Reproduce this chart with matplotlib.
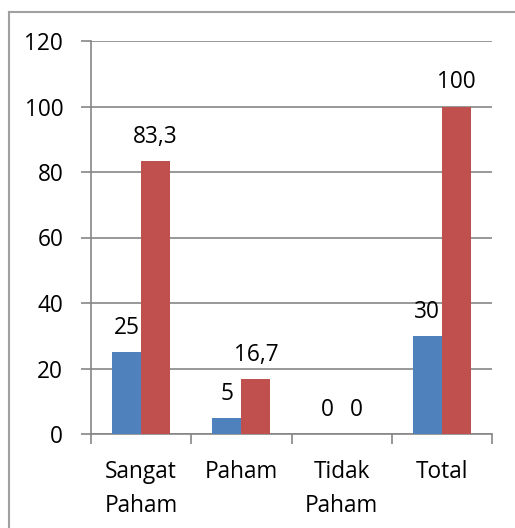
import numpy as np
import matplotlib
matplotlib.use("Agg")
import matplotlib.pyplot as plt
from matplotlib.lines import Line2D

plt.rcParams['font.family'] = ['Open Sans', 'DejaVu Sans']

# data
kategori = ["Sangat\nPaham", "Paham", "Tidak\nPaham", "Total"]
jumlah = [25, 5, 0, 30]
persen = [83.3, 16.7, 0, 100]
label_jumlah = ["25", "5", "0", "30"]
label_persen = ["83,3", "16,7", "0", "100"]
yticks = [0, 20, 40, 60, 80, 100, 120]

W, H = 515, 528
fig = plt.figure(figsize=(W / 100, H / 100), dpi=100)
ax = fig.add_axes([91 / W, 1 - 434 / H, (492 - 91) / W, (434 - 41) / H])

x = np.arange(len(kategori))
bw = 0.29
ax.bar(x - bw / 2, jumlah, bw, color='#4F81BD', zorder=3)
ax.bar(x + bw / 2, persen, bw, color='#C0504D', zorder=3)

fs = 16.3
for xi, v, t in zip(x, jumlah, label_jumlah):
    ax.annotate(t, (xi - bw / 2, v), xytext=(0, 13), textcoords='offset points',
                ha='center', va='baseline', fontsize=fs)
for xi, v, t in zip(x, persen, label_persen):
    ax.annotate(t, (xi + bw / 2, v), xytext=(0, 13), textcoords='offset points',
                ha='center', va='baseline', fontsize=fs)

grid = '#868686'
ax.set_xlim(-0.5, 3.5)
ax.set_ylim(0, 120)
ax.set_yticks(yticks)
ax.set_yticklabels([str(v) for v in yticks], fontsize=fs)
ax.yaxis.grid(True, color=grid, linewidth=1.2, zorder=0)
ax.set_axisbelow(True)

ax.set_xticks(np.arange(-0.5, 4, 1))
ax.set_xticklabels([])
ax.set_xticks(x, minor=True)
ax.set_xticklabels(kategori, minor=True, fontsize=fs, linespacing=1.55)
ax.tick_params(axis='x', which='minor', length=0, pad=19)
ax.tick_params(axis='x', which='major', direction='out', length=7, width=1.2, color=grid)
ax.tick_params(axis='y', direction='out', length=7, width=1.2, color=grid, pad=13)

for s in ['top', 'right']:
    ax.spines[s].set_visible(False)
for s in ['left', 'bottom']:
    ax.spines[s].set_color(grid)
    ax.spines[s].set_linewidth(1.2)

# chart border (only left and top visible inside the picture)
fig.add_artist(Line2D([8.5 / W, 8.5 / W], [0, 1 - 12 / H], color='#A0A0A0', linewidth=1.5))
fig.add_artist(Line2D([8.5 / W, 1], [1 - 12 / H, 1 - 12 / H], color='#A0A0A0', linewidth=1.5))

fig.savefig("out.png", dpi=100, facecolor='white')
